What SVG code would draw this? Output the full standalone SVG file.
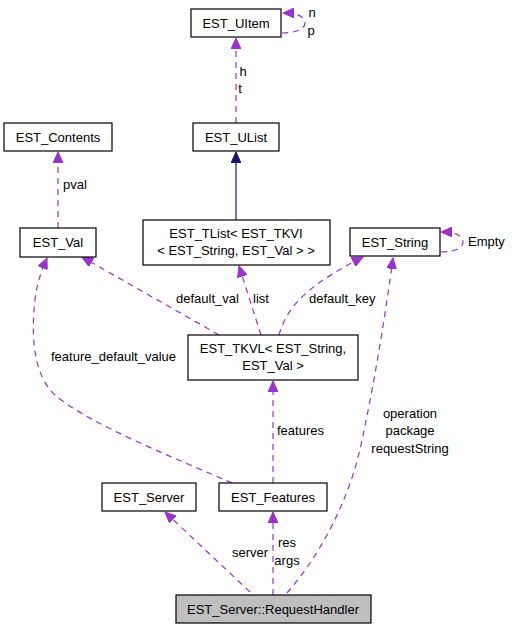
<svg xmlns="http://www.w3.org/2000/svg" width="512" height="629" viewBox="0 0 512 629">
<style>
text{font-family:"Liberation Sans",Arial,sans-serif;font-size:13px;fill:#000}
.n rect{fill:#fff;stroke:#000;stroke-width:1.2}
.n text{text-anchor:middle}
.e{fill:none;stroke:#9a32cd;stroke-width:1.2;stroke-dasharray:6,5}
.s{fill:none;stroke:#191970;stroke-width:1.2}
.m{text-anchor:middle}
</style>
<defs>
<marker id="ap" markerWidth="12" markerHeight="10" refX="11" refY="5" orient="auto" markerUnits="userSpaceOnUse">
<path d="M0,0 L11,5 L0,10 Z" fill="#9a32cd" stroke="#9a32cd"/>
</marker>
<marker id="an" markerWidth="12" markerHeight="10" refX="11" refY="5" orient="auto" markerUnits="userSpaceOnUse">
<path d="M0,0 L11,5 L0,10 Z" fill="#191970" stroke="#191970"/>
</marker>
</defs>
<g id="edges">
<path class="e" d="M236,123 L236,38" marker-end="url(#ap)"/>
<text x="243" y="76" class="m">h</text>
<text x="240" y="93" class="m">t</text>
<path class="e" d="M282,33 C296,33 305,29 305,23 C305,17 298,13 283,13" marker-end="url(#ap)"/>
<text x="312" y="17" class="m">n</text>
<text x="311" y="35" class="m">p</text>
<path class="s" d="M236,220 L236,152" marker-end="url(#an)"/>
<path class="e" d="M58,228 L58,152" marker-end="url(#ap)"/>
<text x="63" y="189">pval</text>
<path class="e" d="M219,335 L82,257" marker-end="url(#ap)"/>
<text x="176" y="303">default_val</text>
<path class="e" d="M261,335 L239,266" marker-end="url(#ap)"/>
<text x="253" y="303">list</text>
<path class="e" d="M279,335 C286,312 298,290 363,257" marker-end="url(#ap)"/>
<text x="309" y="303">default_key</text>
<path class="e" d="M441,252 C455,252 463,248 463,242 C463,236 456,232 441,232" marker-end="url(#ap)"/>
<text x="468" y="246">Empty</text>
<path class="e" d="M232,483 C180,460 90,425 55,395 C33,375 31,335 35,300 C37,283 41,272 47,258" marker-end="url(#ap)"/>
<text x="51" y="361">feature_default_value</text>
<path class="e" d="M273,483 L273,381" marker-end="url(#ap)"/>
<text x="277" y="435">features</text>
<path class="e" d="M250,592 L165,512" marker-end="url(#ap)"/>
<text x="232" y="557">server</text>
<path class="e" d="M273,595 L273,512" marker-end="url(#ap)"/>
<text x="287" y="547" class="m">res</text>
<text x="287" y="565" class="m">args</text>
<path class="e" d="M287,593 C320,555 350,500 362,440 C375,380 386,310 393,258" marker-end="url(#ap)"/>
<text x="410" y="418" class="m">operation</text>
<text x="410" y="435" class="m">package</text>
<text x="410" y="453" class="m">requestString</text>
</g>
<g id="EST_UItem" class="n"><rect x="191" y="9" width="90" height="28"/><text x="236" y="28">EST_UItem</text></g>
<g id="EST_UList" class="n"><rect x="193" y="123" width="86" height="28"/><text x="236" y="142">EST_UList</text></g>
<g id="EST_Contents" class="n"><rect x="4" y="123" width="108" height="28"/><text x="58" y="142">EST_Contents</text></g>
<g id="EST_Val" class="n"><rect x="20" y="228" width="76" height="29"/><text x="58" y="247">EST_Val</text></g>
<g id="EST_TList" class="n"><rect x="143" y="220" width="187" height="45"/><text x="236" y="238">EST_TList&lt; EST_TKVI</text><text x="236" y="255">&lt; EST_String, EST_Val &gt; &gt;</text></g>
<g id="EST_String" class="n"><rect x="350" y="228" width="90" height="28"/><text x="395" y="247">EST_String</text></g>
<g id="EST_TKVL" class="n"><rect x="188" y="335" width="170" height="45"/><text x="273" y="353">EST_TKVL&lt; EST_String,</text><text x="273" y="370">EST_Val &gt;</text></g>
<g id="EST_Server" class="n"><rect x="102" y="483" width="94" height="28"/><text x="149" y="502">EST_Server</text></g>
<g id="EST_Features" class="n"><rect x="219" y="483" width="108" height="28"/><text x="273" y="502">EST_Features</text></g>
<g id="RequestHandler" class="n"><rect x="176" y="595" width="195" height="28" style="fill:#bfbfbf"/><text x="273" y="614">EST_Server::RequestHandler</text></g>
</svg>
